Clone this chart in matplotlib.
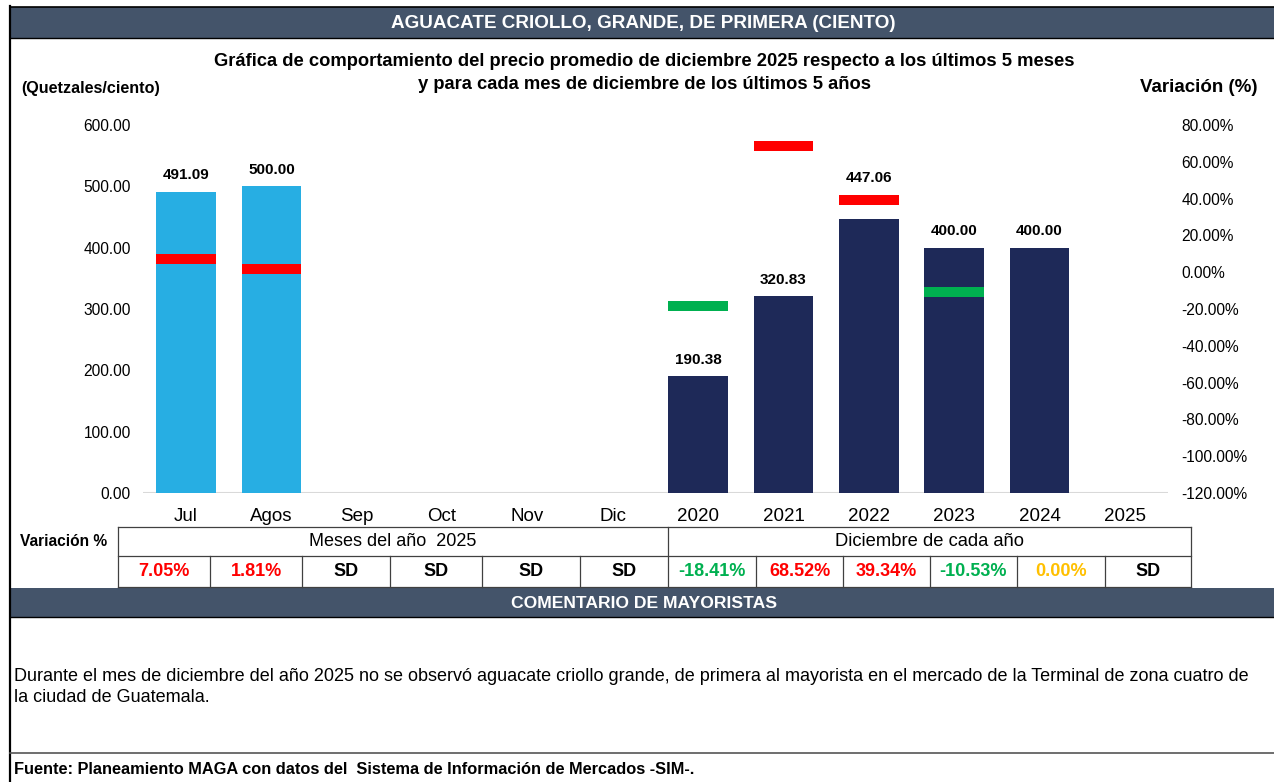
import matplotlib
matplotlib.use('Agg')
import matplotlib.pyplot as plt
import numpy as np
from matplotlib.patches import Rectangle

plt.rcParams['font.family'] = ['Liberation Sans', 'DejaVu Sans']

# ---------------- data ----------------
categories = ['Jul', 'Agos', 'Sep', 'Oct', 'Nov', 'Dic',
              '2020', '2021', '2022', '2023', '2024', '2025']
prices = [491.09, 500.00, None, None, None, None,
          190.38, 320.83, 447.06, 400.00, 400.00, None]
is_month = [True] * 6 + [False] * 6
marker_pct = [7.05, 1.81, None, None, None, None,
              -18.41, 68.52, 39.34, -10.53, None, None]
table_values = ['7.05%', '1.81%', 'SD', 'SD', 'SD', 'SD',
                '-18.41%', '68.52%', '39.34%', '-10.53%', '0.00%', 'SD']
table_kinds = ['up', 'up', 'sd', 'sd', 'sd', 'sd',
               'down', 'up', 'up', 'down', 'zero', 'sd']
left_ticks = [0, 100, 200, 300, 400, 500, 600]
right_ticks = [-120, -100, -80, -60, -40, -20, 0, 20, 40, 60, 80]

title = 'AGUACATE CRIOLLO, GRANDE, DE PRIMERA (CIENTO)'
subtitle = ('Gráfica de comportamiento del precio promedio de diciembre 2025 respecto a los últimos 5 meses\n'
            'y para cada mes de diciembre de los últimos 5 años')
group_months = 'Meses del año  2025'
group_years = 'Diciembre de cada año'
comment_title = 'COMENTARIO DE MAYORISTAS'
comment = ('Durante el mes de diciembre del año 2025 no se observó aguacate criollo grande, de primera al mayorista en el mercado de la Terminal de zona cuatro de\n'
           'la ciudad de Guatemala.')
source = 'Fuente: Planeamiento MAGA con datos del  Sistema de Información de Mercados -SIM-.'

# ---------------- style ----------------
C_MONTH = '#27AEE3'
C_YEAR = '#1E2958'
C_UP = '#FF0000'
C_DOWN = '#00B050'
C_ZERO = '#FFC000'
C_HEAD = '#44546A'
kind_color = {'up': C_UP, 'down': C_DOWN, 'zero': C_ZERO, 'sd': '#000000'}

W, H = 1274, 782
fig = plt.figure(figsize=(W / 100, H / 100), dpi=100)

bg = fig.add_axes([0, 0, 1, 1])
bg.set_xlim(0, W)
bg.set_ylim(H, 0)
bg.axis('off')

# header bars
bg.add_patch(Rectangle((10, 7), W - 10, 31, facecolor=C_HEAD, edgecolor='none'))
bg.plot([10, W], [6.5, 6.5], color='#000000', lw=1.2)
bg.plot([10, W], [38, 38], color='#000000', lw=1.0)
bg.text(643, 23, title, color='white', fontsize=13.6, fontweight='bold', ha='center', va='center')

bg.add_patch(Rectangle((10, 588), W - 10, 29, facecolor=C_HEAD, edgecolor='none'))
bg.plot([10, W], [617, 617], color='#000000', lw=1.0)
bg.text(644, 603, comment_title, color='white', fontsize=12.6, fontweight='bold', ha='center', va='center')

# border lines
bg.plot([10, 10], [6, H], color='#000000', lw=1.6)
bg.plot([10, W], [753, 753], color='#555555', lw=1.2)

# titles
bg.text(644, 73, subtitle, fontsize=13.2, fontweight='bold', ha='center', va='center', linespacing=1.48)
bg.text(91, 89, '(Quetzales/ciento)', fontsize=11.6, fontweight='bold', ha='center', va='center')
bg.text(1199, 87, 'Variación (%)', fontsize=13.5, fontweight='bold', ha='center', va='center')

# ---------------- chart ----------------
ax = fig.add_axes([143.4 / W, (H - 493) / H, 1024.2 / W, 368 / H])
ax.patch.set_alpha(0)
x = np.arange(len(categories))
for i, v in enumerate(prices):
    if v is not None:
        ax.bar(x[i], v, width=0.7, color=C_MONTH if is_month[i] else C_YEAR, zorder=2)
ax.set_xlim(-0.5, len(categories) - 0.5)
ax.set_ylim(left_ticks[0], left_ticks[-1])
ax.set_yticks(left_ticks)
ax.set_yticklabels([f'{t:.2f}' for t in left_ticks])
ax.set_xticks(x)
ax.set_xticklabels(categories)
ax.tick_params(axis='y', length=0, pad=9, labelsize=11.2, labelcolor='#000000')
ax.tick_params(axis='x', length=0, pad=11, labelsize=13.5, labelcolor='#000000')
for s in ax.spines.values():
    s.set_visible(False)
ax.axhline(0, color='#D9D9D9', lw=1.5, zorder=1)

ax2 = ax.twinx()
ax2.set_ylim(right_ticks[0], right_ticks[-1])
ax2.set_yticks(right_ticks)
ax2.set_yticklabels([f'{t:.2f}%' for t in right_ticks])
ax2.tick_params(axis='y', length=0, pad=10, labelsize=11.2)
for s in ax2.spines.values():
    s.set_visible(False)

mk_h = 5.4
for i, p in enumerate(marker_pct):
    if p is not None and p != 0:
        ax2.bar(x[i], mk_h, bottom=p - mk_h / 2, width=0.7,
                color=C_UP if p > 0 else C_DOWN, zorder=3)

# value labels (above bar, or above marker if it sits just above the bar)
lo, hi = ax.get_ylim()
lo2, hi2 = ax2.get_ylim()
scale = (hi - lo) / (hi2 - lo2)
for i, v in enumerate(prices):
    if v is None:
        continue
    base = v
    p = marker_pct[i]
    if p is not None:
        m_top = lo + (p + mk_h / 2 - lo2) * scale
        m_bot = lo + (p - mk_h / 2 - lo2) * scale
        if m_top >= v and m_bot <= v + 50:
            base = m_top
    ax.annotate(f'{v:.2f}', (x[i], base), xytext=(0, 11.8), textcoords='offset points',
                ha='center', va='center', fontsize=11, fontweight='bold', zorder=5)

# ---------------- table ----------------
col_edges = [118, 210, 302, 390, 482, 580, 668, 756, 843, 930, 1017, 1105, 1191]
row_top, row_mid, row_bot = 527, 556, 587
lc = '#404040'
lw = 0.9
for yy in (row_top, row_mid, row_bot):
    bg.plot([col_edges[0], col_edges[-1]], [yy, yy], color=lc, lw=lw)
for j, xx in enumerate(col_edges):
    if j in (0, 6, len(col_edges) - 1):
        bg.plot([xx, xx], [row_top, row_bot], color=lc, lw=lw)
    else:
        bg.plot([xx, xx], [row_mid, row_bot], color=lc, lw=lw)

bg.text(20, 541, 'Variación %', fontsize=11.2, fontweight='bold', ha='left', va='center')
bg.text((col_edges[0] + col_edges[6]) / 2, 541, group_months, fontsize=13, ha='center', va='center')
bg.text((col_edges[6] + col_edges[-1]) / 2, 541, group_years, fontsize=13.2, ha='center', va='center')
for j, (val, kind) in enumerate(zip(table_values, table_kinds)):
    cx = (col_edges[j] + col_edges[j + 1]) / 2
    bg.text(cx, 572, val, fontsize=13, fontweight='bold',
            color=kind_color[kind], ha='center', va='center')

# ---------------- comment ----------------
bg.text(14, 687, comment, fontsize=13.0, ha='left', va='center', linespacing=1.36)
bg.text(14, 770, source, fontsize=11.8, fontweight='bold', ha='left', va='center')

fig.savefig('out.png', dpi=100)
